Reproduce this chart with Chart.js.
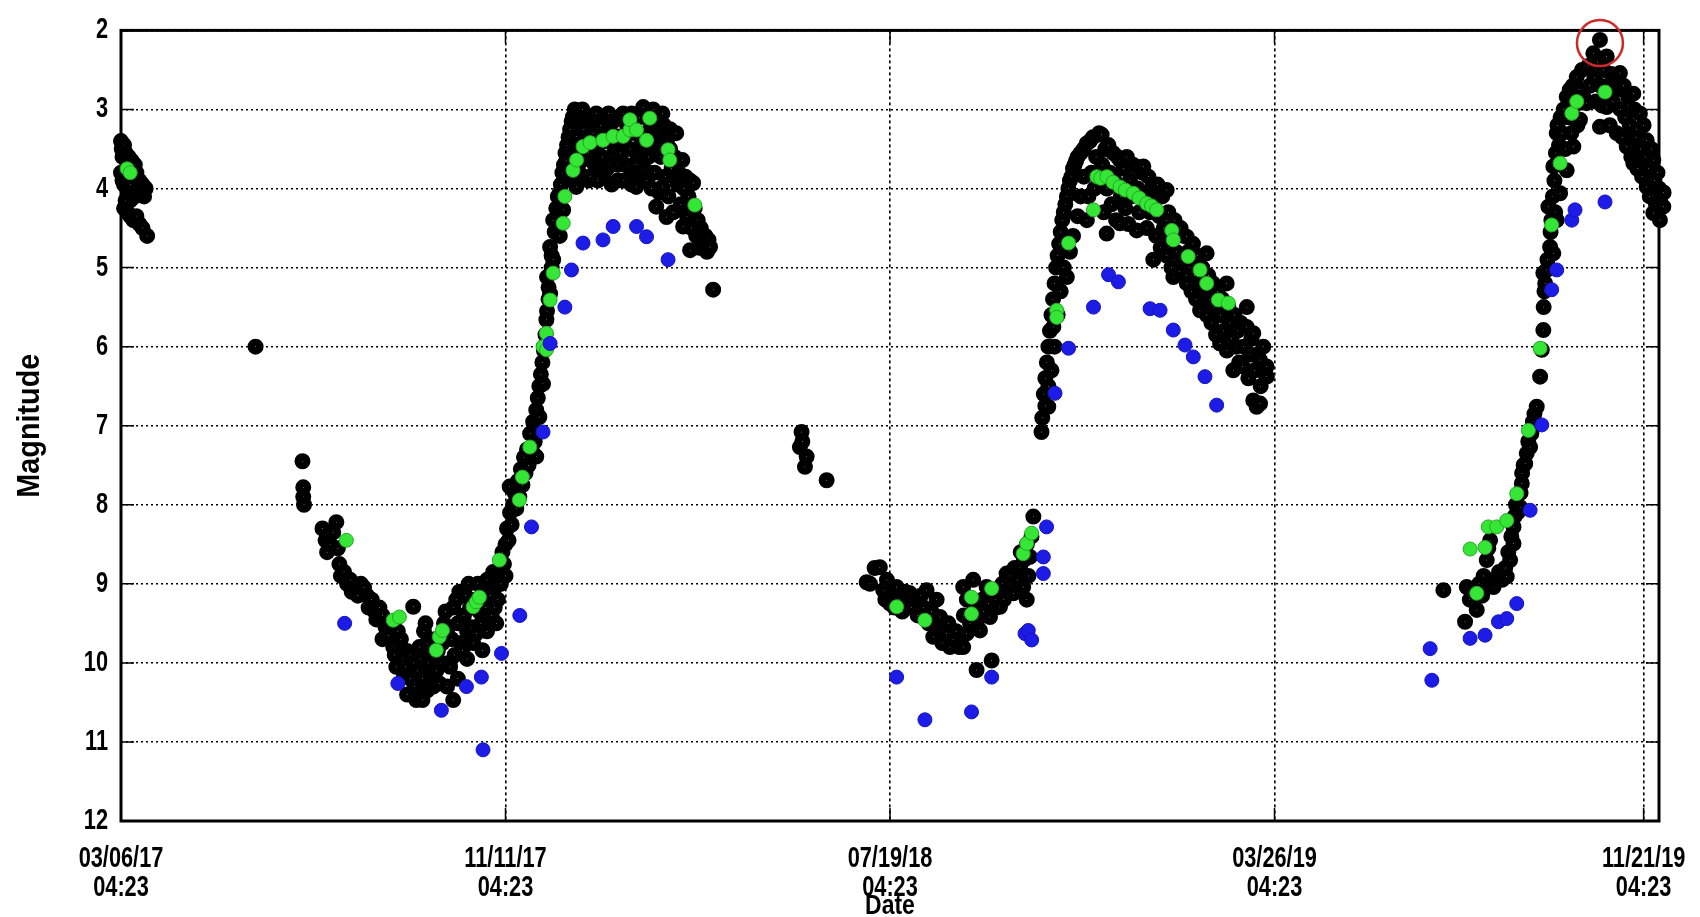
<!DOCTYPE html>
<html>
<head>
<meta charset="utf-8">
<title>Light curve</title>
<script src="https://cdn.jsdelivr.net/npm/chart.js@4.4.1/dist/chart.umd.min.js"></script>
<style>
  html, body { margin: 0; padding: 0; background: #fff; overflow: hidden; }
  canvas { display: block; }
</style>
</head>
<body>
<canvas id="c" width="1700" height="917"></canvas>
<script>
// ---- DATA (x = days since 03/06/17 04:23, y = magnitude) ----
const tickDays = [0, 250, 500, 750, 990];
const tickLabels = [
  ["03/06/17", "04:23"],
  ["11/11/17", "04:23"],
  ["07/19/18", "04:23"],
  ["03/26/19", "04:23"],
  ["11/21/19", "04:23"]
];
const magTicksMin = 2;
const magTicksMax = 12;

const blackObs = [
  // 2017 March
  [0,3.4],[0.5,3.5],[1,3.6],[2,3.45],[3,3.55],[5,3.6],[7,3.65],[9,3.7],[0,3.8],[1,3.9],[2,3.95],[4,4.0],[6,3.95],[8,3.85],[10,3.8],
  [12,3.9],[14,3.95],[16,4.0],[15,4.1],[12,4.05],[9,4.1],[6,4.15],[3,4.15],[2,4.25],[4,4.3],[6,4.35],[8,4.4],[10,4.35],[12,4.45],[14,4.5],[17,4.6],
  [87.5,6.0],
  [118,7.45],[118.5,7.78],[118.5,7.9],[119,8.0],
  // 2017 minimum
  [131,8.3],[133,8.45],[134,8.6],[136,8.5],[138,8.35],[140,8.22],[141,8.55],[142,8.75],[143,8.9],[145,8.85],[147,9.0],[149,8.95],[150,9.1],
  [152,9.05],[154,9.15],[156,9.0],[158,9.05],[160,9.15],[161,9.3],[163,9.2],[165,9.35],[166,9.45],[168,9.3],[170,9.4],[170,9.7],[172,9.55],[174,9.65],
  [176,9.5],[177,9.8],[178,9.9],[179,10.05],[180,9.6],[182,9.7],[183,9.95],[184,10.15],[185,10.05],[186,9.85],[186,10.4],[188,9.9],[188,10.2],[190,9.29],
  [190,10.0],[191,10.3],[192,10.47],[193,10.1],[194,9.8],[195,9.95],[196,10.47],[196,10.2],[197,9.6],[198,9.5],[199,9.75],[199,10.35],[200,10.0],[201,10.15],
  [202,9.9],[203,10.3],[204,9.7],[205,10.1],[206,9.85],[207,10.26],[208,10.0],[209,9.75],[210,9.5],[211,9.35],[212,9.6],[212,10.3],[213,10.0],[214,10.05],[215,9.7],
  [216,10.47],[216,9.3],[217,9.9],[218,9.2],[219,9.5],[219,10.2],[220,9.1],[221,9.75],[222,9.84],[223,9.4],[224,9.15],[225,9.6],[225,9.95],[226,9.0],[227,9.3],
  [228,9.55],[229,9.75],[230,9.2],[231,9.63],[232,9.0],[233,9.35],[234,9.5],[235,9.84],[236,9.1],[237,9.3],[238,8.95],[238,9.6],[240,9.15],[241,9.4],[242,8.85],
  [243,9.05],[243,9.3],[244,9.5],[245,9.2],[246,8.8],[247,9.0],[248,8.6],[249,8.75],[250,8.5],[250,8.9],[251,8.3],[252,8.45],[252.7,7.77],[253,8.1],
  [254,8.25],[255,8.0],[256,7.85],[257,8.05],[258,7.7],[259,7.9],[260,7.55],[261,7.75],[262,7.4],[263,7.6],[264,7.3],[265,7.5],[266,7.1],
  [267,7.3],[268,6.95],[269,7.2],[270,6.8],[270,7.39],[271,6.65],[272,6.89],[272,6.5],[273,6.35],[274,6.2],[274.4,6.47],[275,6.05],[275,6.0],
  [276,5.85],[276.6,5.66],[277,5.55],[277,5.12],[278,5.4],[278,5.25],[279,5.33],[279,4.74],[280,5.0],[280,4.85],[281,4.9],[281,4.4],[282,4.55],
  // 2017-18 maximum
  [283,4.25],[284,4.1],[285.3,4.06],[285.3,4.6],[286,3.95],[287,3.8],[287.5,4.27],[288,3.7],[289,3.55],[289.6,3.64],[290,3.45],[291,3.35],
  [292,3.25],[293,3.15],[293.9,3.09],[294,3.9],[295,3.0],[296,3.34],[296,3.98],[297,3.5],[297,3.75],[298,3.05],[299,3.2],[300,3.0],[300,3.64],[301,3.85],[301,3.25],
  [302,3.4],[303,3.15],[304,3.55],[304,3.9],[305,3.85],[306,3.1],[307,3.3],[308,3.7],[309,3.05],[310,3.45],[310,3.9],[311,3.75],[312,3.2],[313,3.6],[314,3.1],[314,3.8],
  [315,3.4],[316,3.75],[317,3.05],[318,3.3],[318,3.68],[319,3.95],[320,3.15],[321,3.5],[322,3.34],[323,3.7],[323,3.9],[324,3.1],[325,3.55],[326.5,3.05],[327,3.4],[327,3.9],
  [328,3.7],[329,3.2],[330,3.72],[331,3.5],[332,3.05],[332,3.95],[333,3.8],[334,3.3],[335,3.98],[336,3.6],[336,3.8],[337,3.1],[338,3.45],[339.5,2.97],[340,3.75],[340,3.55],
  [341,3.3],[342,3.9],[343,3.6],[344,3.15],[344,3.8],[345,4.0],[346,3.0],[346,3.45],[347,3.8],[348,4.23],[349,3.3],[350,4.05],[350,3.4],[351,3.6],[352,3.98],[352,3.05],
  [353,3.2],[354,3.85],[354.7,4.36],[355,3.4],[356,4.1],[357,3.5],[357,3.25],[358,3.75],[359,4.3],[360,3.6],[361,3.3],[362,3.95],[363,3.81],[364,4.2],
  [365,3.64],[365.5,4.48],[366,4.0],[367,3.85],[368,4.35],[369,4.1],[370,4.78],[370,3.9],[371,4.5],[372,3.93],[373,4.25],[374,4.6],[375,4.4],
  [376,4.75],[377,4.5],[378,4.57],[379,4.7],[380,4.6],[381,4.8],[382,4.65],[383,4.74],[385,5.28],
  // mid 2018
  [442.5,7.08],[441.4,7.27],[443,7.2],[445.8,7.39],[444.7,7.52],[458.8,7.69],
  // 2018 minimum
  [484.8,8.98],[487,9.0],[490,8.8],[493.4,8.79],[495.6,9.08],[497,9.2],[498,8.95],[500,9.25],[501,9.1],[503,9.3],[504.3,9.04],[506,9.2],
  [508,9.35],[510,9.1],[511,9.25],[513,9.12],[514,9.3],[516,9.2],[518,9.4],[520,9.15],[522,9.3],[523.8,9.08],[525,9.5],[527,9.35],[528.1,9.67],
  [530.3,9.2],[531,9.55],[532.5,9.42],[534,9.75],[535,9.6],[536.8,9.63],[538,9.5],[539,9.8],[541,9.7],[543,9.6],[545,9.8],[547.6,9.8],
  [547.6,9.04],[548,9.4],[549.8,9.63],[550,9.2],[552,9.5],[554.1,8.95],[555,9.3],[556.3,10.09],[557,9.45],[558.5,9.59],[560,9.2],[561,9.35],
  [562.8,9.04],[564,9.25],[565,9.42],[566.1,9.97],[567,9.1],[569,9.3],[571.5,9.29],[573,9.0],[574,9.2],[575.8,8.87],[577,9.1],[578,8.9],
  [580.2,9.12],[581,8.8],[583,8.95],[584.5,8.79],[585,8.6],[586.6,9.04],[587,8.7],[588.9,9.2],[589,8.5],[590,8.9],[591,8.66],[592,8.4],
  [593.2,8.15],[598.5,7.08],[602.9,6.76],
  // 2018-19 maximum
  [599,6.9],[600,6.6],[601,6.4],[601,6.75],[602,6.2],[603,6.0],[603,6.5],[604,5.8],[605,5.6],[605,6.3],[606,5.4],[606.2,5.75],[607,5.2],
  [607,6.0],[608,5.0],[609,4.85],[609,5.6],[610,4.7],[611,4.55],[611,5.3],[612,4.4],[613,4.3],[613,5.0],[614,4.2],[615,4.1],[615,5.12],
  [616,4.0],[617,3.9],[617,4.8],[618,3.85],[619,3.75],[619,4.6],[620,3.7],[621,3.65],[622,3.6],[622,4.35],[624,3.55],[624,4.1],[626,3.5],
  [626,3.85],[627.9,3.43],[628,4.4],[629,4.1],[630,3.4],[631,3.8],[632,3.35],[633,4.0],[634,3.6],[636,3.3],[637.6,3.32],[638,3.7],[639,4.3],
  [640,3.5],[640.9,4.57],[641,4.0],[642,3.45],[643,3.8],[644,4.2],[645,3.55],[646,3.9],[647,4.4],[648,3.6],[649.5,3.64],[649.5,4.44],[650,4.1],
  [652,3.75],[653,4.25],[654,3.6],[655,4.45],[656,3.9],[657,4.1],[658,3.7],[660,3.72],[660.4,4.53],[661,4.0],[662,4.3],[664,3.8],[664.7,3.72],
  [666,4.1],[667,4.5],[668,3.85],[669,4.3],[670,4.0],[671.2,4.9],[672,4.15],[673,4.6],[674,3.95],[675,4.35],[676,4.75],[677,4.1],[678,4.5],
  [679.9,4.02],[680,4.85],[681,4.3],[682,4.65],[683,5.0],[684.2,5.12],[685,4.4],[686,4.8],[687,4.55],[688,5.05],[689,4.5],[690,4.9],[691,4.6],
  [692.9,4.61],[693,5.2],[694,4.8],[695,5.0],[696,5.3],[697,4.7],[698,5.1],[699,5.4],[700,4.85],[701.6,5.54],[702,5.2],[703,5.0],[704,5.35],
  [705.9,4.82],[706,5.6],[707,5.1],[708,5.4],[709,5.7],[710,5.2],[711,5.5],[712,5.85],[713,5.3],[714.6,5.96],[715,5.6],[716,5.4],[717,5.8],
  [718.9,5.2],[719,6.05],[720,5.5],[721,5.7],[722,5.9],[723.2,6.3],[724,5.6],[725,6.0],[726,5.8],[727,6.2],[728,5.7],[729.3,6.25],[730,6.0],
  [731.9,5.75],[732,5.5],[733,6.4],[734,6.1],[735,5.9],[736.2,6.68],[736.2,5.83],[737,6.3],[738.4,6.76],[739,6.1],[740.6,6.17],[740.6,6.72],
  [741,6.5],[742.7,6.0],[744,6.35],[744.8,6.25],[745,6.38],
  // 2019
  [859.8,9.08],[873.9,9.48],[875,9.04],[877,9.2],[879,9.1],[881.5,9.33],[883,9.0],[885,9.15],[886,8.9],[888,8.7],[889,8.55],[890.2,8.45],
  [891,9.0],[892.4,9.04],[894,8.95],[896,8.85],[898,8.95],[900,8.8],[901,8.91],[902,8.6],[903.2,8.7],[904,8.4],[905.4,8.49],[905.4,8.28],
  [906,8.15],[907,8.0],[908,8.1],[909.7,8.03],[910,7.85],[910.8,7.73],[911,7.6],[912,7.5],[913,7.48],[914,7.35],[915,7.2],[916.2,7.27],
  [917,7.1],[918,6.95],[919,6.85],[920.5,6.76],[922.7,6.38],[923.8,6.04],[924.8,5.79],[925,5.5],[925.5,5.3],[924.8,5.07],[926,5.2],[927,5.03],
  [927.5,4.9],[928.1,4.23],[929.2,4.74],[929.5,4.55],[930,4.4],[931,4.1],[931.3,3.72],[931.3,4.82],[932,3.9],[932.5,4.3],[933,3.55],[933.5,3.3],
  [933.5,4.4],[934,3.2],[935,3.45],[935.7,4.06],[936,3.1],[937,3.3],[938,3.0],[939,3.5],[940,2.84],[940,3.77],[941,3.1],[942,2.75],[943,3.3],
  [944,2.7],[944.3,3.47],[945,2.95],[946.5,2.59],[947,3.2],[948,2.75],[948.6,3.13],[950,2.5],[951,2.85],[952.9,2.92],[954,2.45],[955,2.7],
  [957.3,2.29],[958,2.6],[959,2.9],[960,2.4],[961.6,2.12],[961.6,3.22],[962,2.7],[963,2.95],[964,2.5],[966,2.33],[966,2.97],[967,2.7],
  [968,3.2],[969,2.55],[970,2.9],[971,2.6],[972.5,3.3],[973,2.75],[974.6,2.54],[975,3.0],[976,3.35],[977,2.7],[978,3.1],[979,3.47],[980,2.85],
  [981,3.2],[982,3.6],[983.3,2.8],[983.3,3.68],[984,3.0],[985,3.35],[986,3.75],[987.6,3.05],[988,3.5],[989,3.85],[990,3.2],[991,3.6],
  [992,3.39],[992,3.98],[993,3.75],[994,4.1],[995,3.5],[996.3,3.64],[996.3,4.31],[997,3.9],[998,4.2],[999,3.8],[1000,4.0],[1000.6,4.4],
  [1001,4.1],[1002.8,4.23],[1003,4.05]
];

const greenObs = [
  [4,3.75],[6,3.8],
  [146.5,8.45],[177,9.46],[181,9.42],[205,9.84],[207,9.67],[209,9.59],[229,9.29],[231,9.23],[233,9.17],[246,8.7],[259,7.94],[261,7.65],
  [265.8,7.27],[274.4,6.0],[276.6,5.83],[276.6,6.04],[279,5.41],[281,5.07],[287.5,4.44],[288.6,4.1],[293.9,3.77],[296.2,3.64],[300.4,3.47],
  [305,3.42],[313.4,3.39],[320,3.34],[326.5,3.34],[330.9,3.26],[330.9,3.13],[335.2,3.26],[341.7,3.39],[343.8,3.11],[355.7,3.51],[356.8,3.64],
  [373.1,4.21],
  [504.3,9.29],[522.7,9.46],[553,9.17],[553,9.38],[566.1,9.06],[586.6,8.62],[588.9,8.49],[592.1,8.36],
  [608.4,5.54],[608.4,5.63],[616.1,4.69],[632.3,4.27],[634.5,3.85],[637,3.87],[641,3.85],[645,3.92],[649.5,3.98],[653,4.02],[658.2,4.06],
  [662,4.12],[666.9,4.19],[670,4.22],[673.4,4.27],[683.2,4.53],[684.2,4.65],[693.9,4.86],[701.6,5.03],[705.9,5.2],[713.5,5.41],[720,5.45],
  [877.2,8.56],[881.5,9.12],[886.9,8.54],[889,8.28],[894.5,8.28],[901,8.2],[907.5,7.86],[915.1,7.06],[922.7,6.02],[930.2,4.46],[935.7,3.68],
  [943.3,3.05],[946.5,2.9],[964.9,2.78]
];

const blueObs = [
  [145.4,9.5],[180,10.26],[208.3,10.6],[224.6,10.3],[234.3,10.18],[235.4,11.1],[247.4,9.88],[259.3,9.4],[266.9,8.28],[274.4,7.08],[279,5.96],
  [288.6,5.5],[292.9,5.03],[300.4,4.69],[313.4,4.65],[320,4.48],[335.2,4.48],[341.7,4.61],[355.7,4.9],
  [504.3,10.18],[522.7,10.72],[553,10.62],[566.1,10.18],[587.8,9.63],[589.9,9.59],[592.1,9.71],[599.7,8.87],[599.7,8.66],[601.8,8.28],
  [607.3,6.59],[616.1,6.02],[632.3,5.5],[642.1,5.09],[648.5,5.18],[669.1,5.52],[675.6,5.54],[684.2,5.79],[691.8,5.98],[697.2,6.13],
  [704.8,6.38],[712.4,6.74],
  [851.2,9.82],[852.3,10.22],[877.2,9.69],[886.9,9.65],[895.6,9.48],[901,9.44],[907.5,9.25],[916.2,8.07],[923.8,6.99],[930.2,5.28],
  [933.5,5.03],[943.3,4.4],[945.4,4.27],[964.9,4.17]
];

const highlight = [[961.6, 2.16]];

// ---- CHART ----
const FONT = "'Liberation Sans', Arial, sans-serif";
const toPts = arr => arr.map(p => ({x: p[0], y: p[1]}));

// The source image uses tall, condensed lettering: draw the library's text narrowed horizontally.
const canvas = document.getElementById('c');
const g = canvas.getContext('2d');
const NARROW = { '29px': 0.75, '32px': 0.9, '28px': 0.82 };
const narrowFactor = font => { for (const k in NARROW) if (font.indexOf(' ' + k) >= 0) return NARROW[k]; return 1; };
const origFill = g.fillText;
g.fillText = function (t, x, y, mw) {
  const f = narrowFactor(this.font);
  if (f === 1) return origFill.call(this, t, x, y, mw);
  this.save(); this.translate(x, y); this.scale(f, 1);
  origFill.call(this, t, 0, 0);
  this.restore();
};
const origMeasure = g.measureText;
g.measureText = function (t) {
  const m = origMeasure.call(this, t);
  const f = narrowFactor(this.font);
  if (f === 1) return m;
  return { width: m.width * f, actualBoundingBoxAscent: m.actualBoundingBoxAscent, actualBoundingBoxDescent: m.actualBoundingBoxDescent };
};

const framePlugin = {
  id: 'frame',
  beforeDatasetsDraw(chart) {
    const {ctx, chartArea: a, scales} = chart;
    ctx.save();
    ctx.strokeStyle = '#000';
    ctx.lineWidth = 1.5;
    const tl = 13;
    scales.y.ticks.forEach(t => {
      const y = scales.y.getPixelForValue(t.value);
      ctx.beginPath();
      ctx.moveTo(a.left, y); ctx.lineTo(a.left + tl, y);
      ctx.moveTo(a.right, y); ctx.lineTo(a.right - tl, y);
      ctx.stroke();
    });
    scales.x.ticks.forEach(t => {
      const x = scales.x.getPixelForValue(t.value);
      ctx.beginPath();
      ctx.moveTo(x, a.bottom); ctx.lineTo(x, a.bottom - tl);
      ctx.moveTo(x, a.top); ctx.lineTo(x, a.top + tl);
      ctx.stroke();
    });
    ctx.lineWidth = 3;
    ctx.strokeRect(a.left, a.top, a.right - a.left, a.bottom - a.top);
    ctx.restore();
  }
};

new Chart(canvas, {
  type: 'scatter',
  data: {
    datasets: [
      {
        label: 'highlight', data: toPts(highlight), clip: false,
        pointRadius: 23, pointBorderWidth: 2.5, pointBorderColor: '#cc2a2a',
        pointBackgroundColor: 'rgba(0,0,0,0)'
      },
      {
        label: 'V (blue)', data: toPts(blueObs), clip: false,
        pointRadius: 7, pointBorderWidth: 1, pointBorderColor: '#1414c0',
        pointBackgroundColor: '#1c1ce6'
      },
      {
        label: 'Vis (green)', data: toPts(greenObs), clip: false,
        pointRadius: 7, pointBorderWidth: 1, pointBorderColor: '#22a822',
        pointBackgroundColor: '#36e636'
      },
      {
        label: 'Visual', data: toPts(blackObs), clip: false,
        pointRadius: 4.2, pointBorderWidth: 7.6, pointBorderColor: '#000',
        pointBackgroundColor: '#fff'
      }
    ]
  },
  options: {
    responsive: false,
    animation: false,
    devicePixelRatio: 1,
    events: [],
    layout: { padding: { top: 30, right: 41, left: 0, bottom: 0 } },
    plugins: { legend: { display: false }, tooltip: { enabled: false } },
    scales: {
      x: {
        type: 'linear', min: 0, max: 1000,
        afterBuildTicks: s => { s.ticks = tickDays.map(v => ({ value: v })); },
        afterFit: s => { s.height = 96; s.paddingLeft = 0; s.paddingRight = 0; },
        ticks: {
          autoSkip: false, maxRotation: 0, minRotation: 0, padding: 23,
          color: '#000',
          font: { family: FONT, size: 29, weight: 'bold', lineHeight: 1.0 },
          callback: v => { const i = tickDays.indexOf(v); return i >= 0 ? tickLabels[i] : ''; }
        },
        grid: { color: '#000', lineWidth: 1.6, drawTicks: false },
        border: { display: false, dash: [3, 3] },
        title: {
          display: true, text: 'Date', color: '#000',
          font: { family: FONT, size: 28, weight: 'bold', lineHeight: 1 },
          padding: { top: 0, bottom: -3 }
        }
      },
      y: {
        reverse: true, min: magTicksMin, max: magTicksMax,
        afterFit: s => { s.width = 121; },
        ticks: {
          stepSize: 1, padding: 13, color: '#000',
          font: { family: FONT, size: 29, weight: 'bold' }
        },
        grid: { color: '#000', lineWidth: 1.6, drawTicks: false },
        border: { display: false, dash: [2, 3] },
        title: {
          display: true, text: 'Magnitude', color: '#000',
          font: { family: FONT, size: 32, weight: 'bold', lineHeight: 1.2 },
          padding: { top: 11, bottom: 0 }
        }
      }
    }
  },
  plugins: [framePlugin]
});
</script>
</body>
</html>
